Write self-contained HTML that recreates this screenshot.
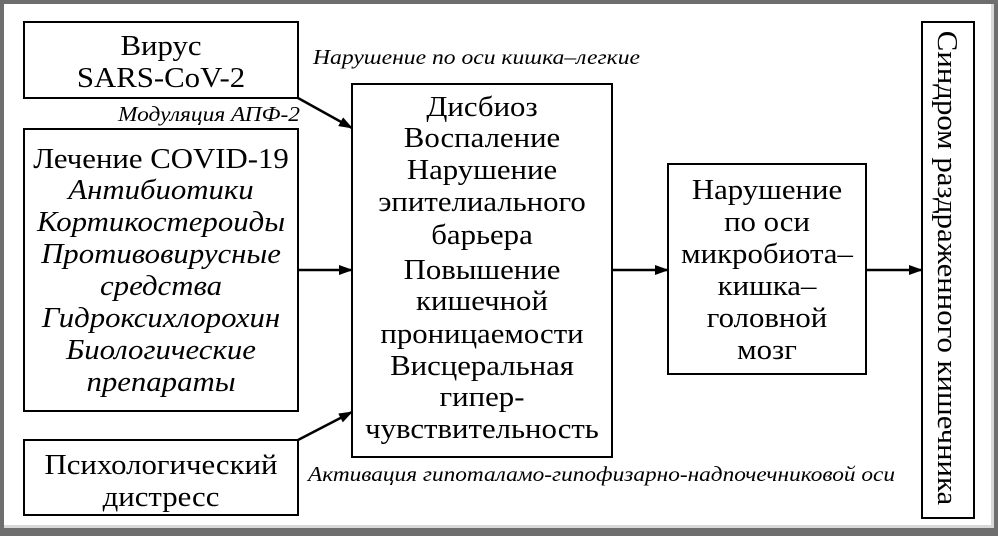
<!DOCTYPE html>
<html><head><meta charset="utf-8"><style>
html,body{margin:0;padding:0;background:#fff}
svg{display:block}
text{font-family:"Liberation Serif",serif;fill:#000}
.m{font-size:28px}
.i{font-size:21px;font-style:italic}
</style></head><body>
<svg width="998" height="536" viewBox="0 0 998 536" xmlns="http://www.w3.org/2000/svg">
<defs><marker id="a" markerWidth="14" markerHeight="10" refX="13" refY="5" orient="auto" markerUnits="userSpaceOnUse"><path d="M0,0 L14,5 L0,10 Z" fill="#000"/></marker></defs>
<rect x="0" y="0" width="998" height="536" fill="#6e6e6e"/>
<rect x="4" y="4" width="990" height="524" fill="#d8d8d8"/>
<rect x="4" y="4" width="987" height="521" fill="#fff"/>
<g fill="#fff" stroke="#000" stroke-width="2">
<rect x="24" y="22" width="274" height="76"/>
<rect x="24" y="129" width="274" height="282"/>
<rect x="24" y="440" width="274" height="75"/>
<rect x="352" y="84" width="260" height="373"/>
<rect x="668" y="164" width="198" height="210"/>
<rect x="922" y="22" width="52" height="496"/>
</g>
<g stroke="#000" stroke-width="2.5" fill="none">
<line x1="298" y1="98" x2="352" y2="128" marker-end="url(#a)"/>
<line x1="298" y1="270" x2="352" y2="270" marker-end="url(#a)"/>
<line x1="298" y1="440" x2="352" y2="412" marker-end="url(#a)"/>
<line x1="612" y1="270" x2="668" y2="270" marker-end="url(#a)"/>
<line x1="866" y1="270" x2="922" y2="270" marker-end="url(#a)"/>
</g>
<g class="m" text-anchor="middle">
<g transform="translate(161,0) scale(1.1,1)">
<text x="0" y="55">Вирус</text>
<text x="0" y="87">SARS-CoV-2</text>
<text x="0" y="168">Лечение COVID-19</text>
<g font-style="italic">
<text x="0" y="199">Антибиотики</text>
<text x="0" y="231">Кортикостероиды</text>
<text x="0" y="263">Противовирусные</text>
<text x="0" y="295">средства</text>
<text x="0" y="327">Гидроксихлорохин</text>
<text x="0" y="359">Биологические</text>
<text x="0" y="391">препараты</text>
</g>
<text x="0" y="474">Психологический</text>
<text x="0" y="506">дистресс</text>
</g>
<g transform="translate(482,0) scale(1.1,1)">
<text x="0" y="116">Дисбиоз</text>
<text x="0" y="147">Воспаление</text>
<text x="0" y="179">Нарушение</text>
<text x="0" y="211">эпителиального</text>
<text x="0" y="244">барьера</text>
<text x="0" y="279">Повышение</text>
<text x="0" y="310">кишечной</text>
<text x="0" y="343">проницаемости</text>
<text x="0" y="375">Висцеральная</text>
<text x="0" y="406">гипер-</text>
<text x="0" y="438">чувствительность</text>
</g>
<g transform="translate(767,0) scale(1.1,1)">
<text x="0" y="199">Нарушение</text>
<text x="0" y="231">по оси</text>
<text x="0" y="263">микробиота–</text>
<text x="0" y="295">кишка–</text>
<text x="0" y="327">головной</text>
<text x="0" y="359">мозг</text>
</g>
<text transform="translate(938,268) rotate(90) scale(1.1,1)">Синдром раздраженного кишечника</text>
</g>
<text class="i" x="313" y="64" textLength="327" lengthAdjust="spacingAndGlyphs">Нарушение по оси кишка–легкие</text>
<text class="i" x="118" y="121" textLength="182" lengthAdjust="spacingAndGlyphs">Модуляция АПФ-2</text>
<text class="i" x="308" y="481" textLength="587" lengthAdjust="spacingAndGlyphs">Активация гипоталамо-гипофизарно-надпочечниковой оси</text>
</svg>
</body></html>
